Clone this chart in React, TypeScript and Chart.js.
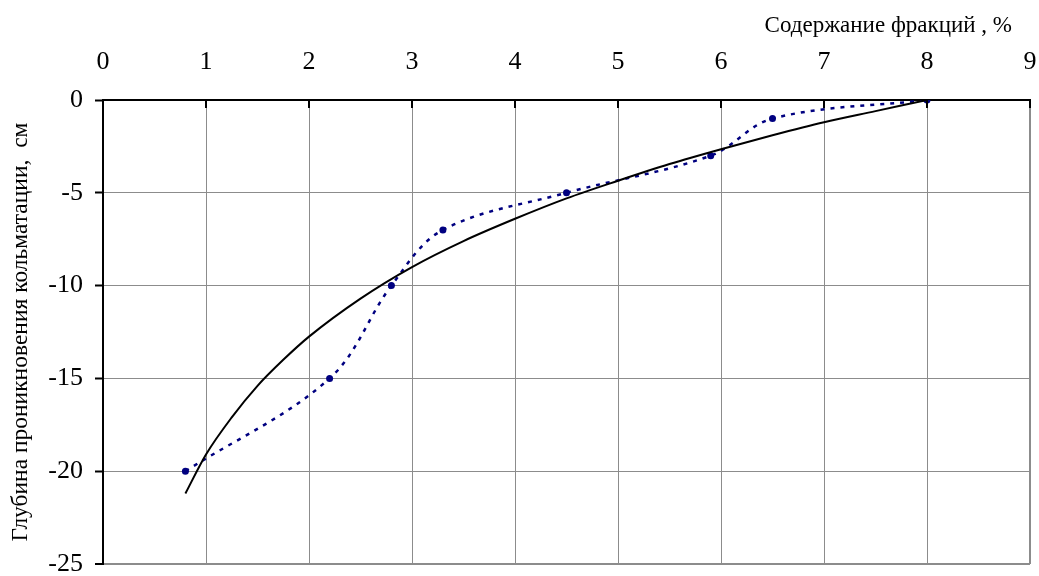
import React, { useEffect, useRef } from 'react';
import { Chart, registerables } from 'chart.js';

Chart.register(...registerables);

// Axis ticks
const xTickValues = [0, 1, 2, 3, 4, 5, 6, 7, 8, 9];
const yTickValues = [0, -5, -10, -15, -20, -25];

// Measured points: fraction content (%) vs. penetration depth (cm)
const fractionContent = [0.8, 2.2, 2.8, 3.3, 4.5, 5.9, 6.5, 8];
const depth = [-20, -15, -10, -7, -5, -3, -1, 0];

// Trend curve
const trendX = [0.8, 1, 1.25, 1.5, 1.75, 2, 2.5, 3, 3.5, 4, 4.5, 5, 5.5, 6, 6.5, 7, 7.5, 8];
const trendY = [-21.2, -19.1, -17.1, -15.4, -14.0, -12.75, -10.7, -9.0, -7.6, -6.4, -5.3, -4.35, -3.45, -2.65, -1.9, -1.2, -0.6, 0];

const xTitle = 'Содержание фракций , %';
const yTitle = 'Глубина проникновения кольматации,  см';

const FONT = '"Liberation Serif", "Times New Roman", serif';
const GRID = '#8c8c8c';

const innerTicksPlugin = {
  id: 'innerTicks',
  afterDatasetsDraw(chart: any) {
    const ctx = chart.ctx;
    const xs = chart.scales.x;
    const top = chart.chartArea.top;
    ctx.save();
    ctx.strokeStyle = '#000';
    ctx.lineWidth = 2;
    xTickValues.forEach((v) => {
      if (v === 0) return;
      const px = Math.round(xs.getPixelForValue(v));
      ctx.beginPath();
      ctx.moveTo(px, top);
      ctx.lineTo(px, top + 8);
      ctx.stroke();
    });
    ctx.restore();
  },
};

const xTitlePlugin = {
  id: 'xTitleText',
  afterDraw(chart: any) {
    const ctx = chart.ctx;
    const area = chart.chartArea;
    ctx.save();
    ctx.font = `23px ${FONT}`;
    ctx.fillStyle = '#000';
    ctx.textAlign = 'right';
    ctx.textBaseline = 'alphabetic';
    ctx.fillText(xTitle, area.right - 18, area.top - 68);
    ctx.restore();
  },
};

export default function App() {
  const canvasRef = useRef<HTMLCanvasElement | null>(null);

  useEffect(() => {
    document.body.style.margin = '0';
    const canvas = canvasRef.current;
    if (!canvas) return;
    const chart = new Chart(canvas, {
      type: 'scatter',
      data: {
        datasets: [
          {
            label: 'trend',
            data: trendX.map((x, i) => ({ x, y: trendY[i] })),
            showLine: true,
            borderColor: '#000',
            borderWidth: 2,
            pointRadius: 0,
            cubicInterpolationMode: 'monotone',
            fill: false,
          },
          {
            label: 'data',
            data: fractionContent.map((x, i) => ({ x, y: depth[i] })),
            showLine: true,
            borderColor: '#000080',
            backgroundColor: '#000080',
            borderWidth: 2.5,
            borderDash: [4, 6],
            pointRadius: 3.5,
            pointBorderWidth: 0,
            tension: 0.35,
            fill: false,
          },
        ],
      },
      options: {
        animation: false,
        responsive: false,
        devicePixelRatio: 1,
        layout: { padding: { left: 0, top: 0, right: 9, bottom: 12 } },
        plugins: {
          legend: { display: false },
          tooltip: { enabled: false },
          title: { display: false },
        },
        scales: {
          x: {
            type: 'linear',
            position: 'top',
            min: 0,
            max: 9,
            afterBuildTicks: (s: any) => {
              s.ticks = xTickValues.map((v) => ({ value: v }));
            },
            afterFit: (s: any) => {
              s.height = 100;
              s.paddingLeft = 0;
              s.paddingRight = 0;
            },
            ticks: {
              font: { family: FONT, size: 26 },
              color: '#000',
              padding: 22,
              maxRotation: 0,
              callback: (v: any) => String(v),
            },
            grid: {
              drawTicks: false,
              color: (c: any) => (c.tick && c.tick.value === 0 ? 'rgba(0,0,0,0)' : GRID),
              lineWidth: (c: any) => (c.tick && c.tick.value === 9 ? 2 : 1),
            },
            border: { display: true, color: '#000', width: 2 },
          },
          y: {
            type: 'linear',
            position: 'left',
            min: -25,
            max: 0,
            afterBuildTicks: (s: any) => {
              s.ticks = yTickValues.map((v) => ({ value: v }));
            },
            afterFit: (s: any) => {
              s.width = 103;
              s.paddingTop = 0;
              s.paddingBottom = 0;
            },
            ticks: {
              font: { family: FONT, size: 26 },
              color: '#000',
              padding: 12,
              callback: (v: any) => String(v),
            },
            grid: {
              drawTicks: true,
              tickLength: 8,
              tickWidth: 2,
              tickColor: '#000',
              color: (c: any) => (c.tick && c.tick.value === 0 ? 'rgba(0,0,0,0)' : GRID),
              lineWidth: (c: any) => (c.tick && c.tick.value === -25 ? 2 : 1),
            },
            border: { display: true, color: '#000', width: 2 },
            title: {
              display: true,
              text: yTitle,
              color: '#000',
              font: { family: FONT, size: 23.5 },
              padding: { top: 7, bottom: 0 },
            },
          },
        },
      },
      plugins: [innerTicksPlugin, xTitlePlugin],
    });
    return () => chart.destroy();
  }, []);

  return (
    <div style={{ width: 1039, height: 576, background: '#fff' }}>
      <canvas ref={canvasRef} width={1039} height={576} style={{ display: 'block' }} />
    </div>
  );
}
